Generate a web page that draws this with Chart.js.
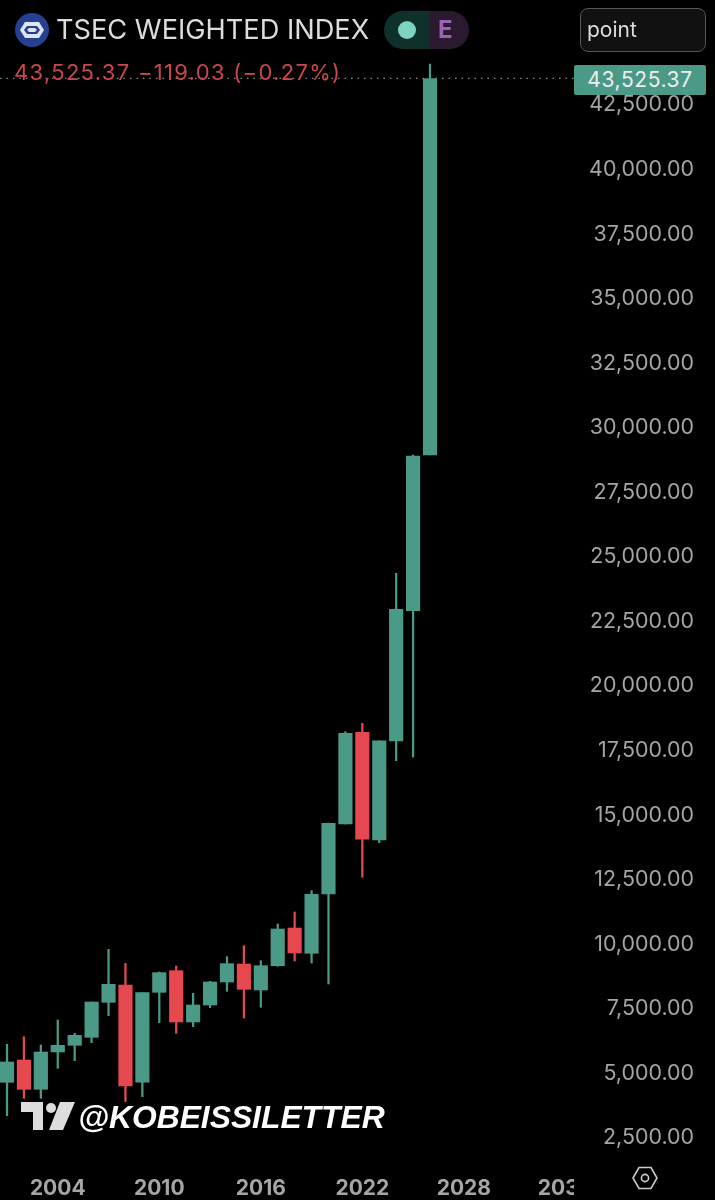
<!DOCTYPE html>
<html>
<head>
<meta charset="utf-8">
<title>TSEC WEIGHTED INDEX</title>
<script src="https://cdn.jsdelivr.net/npm/chart.js@4"></script>
<style>
  html, body { margin: 0; background: #000; }
  #wrap { position: relative; width: 715px; height: 1200px; overflow: hidden; font-family: Inter, sans-serif; }
  #chart { position: absolute; left: 0; top: 0; }
  #wrap div, #wrap svg { position: absolute; }
  .title { left: 56px; top: 14px; font-size: 27.2px; color: #ddd; white-space: nowrap; line-height: 32px; }
  .pillL { left: 384px; top: 11px; width: 45px; height: 38px; background: #10302b; border-radius: 19px 0 0 19px; }
  .pillR { left: 429px; top: 11px; width: 40px; height: 38px; background: #2a1a30; border-radius: 0 19px 19px 0; }
  .dot { left: 398px; top: 21px; width: 18px; height: 18px; border-radius: 50%; background: #7dd3bf; }
  .e { left: 438px; top: 14px; font-size: 24px; line-height: 32px; font-weight: 700; color: #9b62b8; }
  .box { left: 580px; top: 8px; width: 124px; height: 42px; border: 1.5px solid #555; border-radius: 8px; background: #111; }
  .boxText { left: 587px; top: 14px; font-size: 21px; line-height: 32px; color: #ddd; }
  .quote { left: 14px; top: 57px; font-size: 22px; letter-spacing: 1.3px; line-height: 30px; color: #c9474c; white-space: nowrap; }
  .badge { left: 574px; top: 65px; width: 132px; height: 30px; background: #4a9a87; border-radius: 2px; color: #eee; font-size: 21px; letter-spacing: 0.6px; line-height: 30px; text-align: center; }
  .mark { left: 78px; top: 1098px; font-family: "Liberation Sans", sans-serif; font-weight: 700; font-style: italic; font-size: 31.8px; line-height: 38px; color: #fff; white-space: nowrap; }
  .corner { left: 574px; top: 1160px; width: 141px; height: 40px; background: #000; }
</style>
</head>
<body>
<div id="wrap">
  <canvas id="chart" width="715" height="1200"></canvas>

  <svg style="left:15px;top:13px" width="34" height="34" viewBox="0 0 34 34">
    <circle cx="17" cy="17" r="17" fill="#24408e"/>
    <path d="M10 9 H24 L29 17 L24 25 H10 L5 17 Z M12 13 L9 17 L12 21 H22 L25 17 L22 13 Z" fill="#dfe4f2"/>
    <path d="M14 15 H20 L22 17 L20 19 H14 L12 17 Z" fill="#dfe4f2"/>
  </svg>
  <div class="title">TSEC WEIGHTED INDEX</div>
  <div class="pillL"></div><div class="pillR"></div>
  <div class="dot"></div><div class="e">E</div>
  <div class="box"></div><div class="boxText">point</div>
  <div class="quote">43,525.37 −119.03 (−0.27%)</div>
  <div class="badge">43,525.37</div>

  <svg style="left:20px;top:1101px" width="56" height="30" viewBox="0 0 56 30">
    <path d="M1 1 H23 V29 H13 V11 H1 Z" fill="#ddd"/>
    <circle cx="31" cy="7" r="5" fill="#ddd"/>
    <path d="M40 1 H55 L43 29 H29 Z" fill="#ddd"/>
  </svg>
  <div class="mark">@KOBEISSILETTER</div>

  <div class="corner"></div>
  <svg style="left:632px;top:1165px" width="26" height="26" viewBox="0 0 26 26">
    <path d="M7 2.5 H19 L25 13 L19 23.5 H7 L1 13 Z" fill="none" stroke="#ccc" stroke-width="1.6"/>
    <circle cx="13" cy="13" r="3.6" fill="none" stroke="#ccc" stroke-width="1.6"/>
  </svg>
</div>

<script>
// yearly candles, values
const years  = [2001, 2002, 2003, 2004, 2005, 2006, 2007, 2008, 2009, 2010, 2011, 2012, 2013, 2014, 2015, 2016, 2017, 2018, 2019, 2020, 2021, 2022, 2023, 2024, 2025, 2026];
const opens  = [4657, 5520, 4385, 5830, 6089, 6398, 7753, 8424, 4657, 8140, 8979, 6992, 7650, 8540, 9237, 8231, 9171, 10631, 9652, 11948, 14658, 18209, 14039, 17872, 22917, 28946];
const closes = [5443, 4385, 5830, 6089, 6475, 7766, 8450, 4513, 8127, 8902, 6992, 7650, 8540, 9250, 8257, 9171, 10592, 9663, 11936, 14685, 18170, 14066, 17883, 22971, 28907, 43525];
const highs  = [6128, 6423, 6101, 7069, 6553, 7766, 9805, 9263, 8127, 8928, 9160, 8102, 8566, 9521, 9947, 9366, 10786, 11251, 12076, 14697, 18232, 18557, 17883, 24365, 28946, 44085];
const lows   = [3363, 4036, 4036, 5198, 5494, 6191, 7237, 3907, 4100, 6966, 6553, 6811, 7547, 8179, 7146, 7560, 9150, 9353, 9276, 8463, 14658, 12594, 13934, 17109, 17241, 28946];
const lastPrice = 43525.37;
const priceTicks = [2500, 5000, 7500, 10000, 12500, 15000, 17500, 20000, 22500, 25000, 27500, 30000, 32500, 35000, 37500, 40000, 42500];
const yearTicks = [2004, 2010, 2016, 2022, 2028, 2034];

const GREEN = '#4a9a87';
const RED = '#e5484f';
const xMin = 2000.586, xMax = 2034.51;

const colors = years.map((y, i) => closes[i] >= opens[i] ? GREEN : RED);
const bodies = years.map((y, i) => ({ x: y, y: [opens[i], closes[i]] }));
const wicks  = years.map((y, i) => ({ x: y, y: [lows[i], highs[i]] }));

new Chart(document.getElementById('chart').getContext('2d'), {
  type: 'bar',
  data: {
    datasets: [
      { data: bodies, backgroundColor: colors, barThickness: 13.5, borderSkipped: false, grouped: false },
      { data: wicks, backgroundColor: colors, barThickness: 1.6, borderSkipped: false, grouped: false },
      { type: 'line', data: [{ x: xMin, y: lastPrice }, { x: xMax, y: lastPrice }], borderColor: '#8a8a8a', borderWidth: 1.2, borderDash: [1.5, 5], pointRadius: 0 }
    ]
  },
  options: {
    responsive: false,
    animation: false,
    layout: { padding: { right: 21 } },
    plugins: { legend: { display: false }, tooltip: { enabled: false } },
    scales: {
      x: {
        type: 'linear',
        offset: false,
        min: xMin,
        max: xMax,
        grid: { display: false },
        border: { display: false },
        afterBuildTicks: s => { s.ticks = yearTicks.map(v => ({ value: v })); },
        afterFit: s => { s.height = 40; s.paddingLeft = 0; s.paddingRight = 0; },
        ticks: {
          autoSkip: false,
          maxRotation: 0,
          padding: 8,
          color: '#a5a5a5',
          font: { family: 'Inter', size: 21, weight: 'bold' },
          callback: v => String(v)
        }
      },
      y: {
        position: 'right',
        min: 1648,
        max: 46563,
        grid: { display: false },
        border: { display: false },
        afterBuildTicks: s => { s.ticks = priceTicks.map(v => ({ value: v })); },
        // no room kept for the hanging top label, the plot runs to the page edge
        afterFit: s => { s.width = 120; s.paddingTop = 0; s.paddingBottom = 0; },
        ticks: {
          autoSkip: false,
          crossAlign: 'far',
          color: '#a5a5a5',
          font: { family: 'Inter', size: 21.4 },
          callback: v => v.toLocaleString('en-US', { minimumFractionDigits: 2 })
        }
      }
    }
  }
});
</script>
</body>
</html>
